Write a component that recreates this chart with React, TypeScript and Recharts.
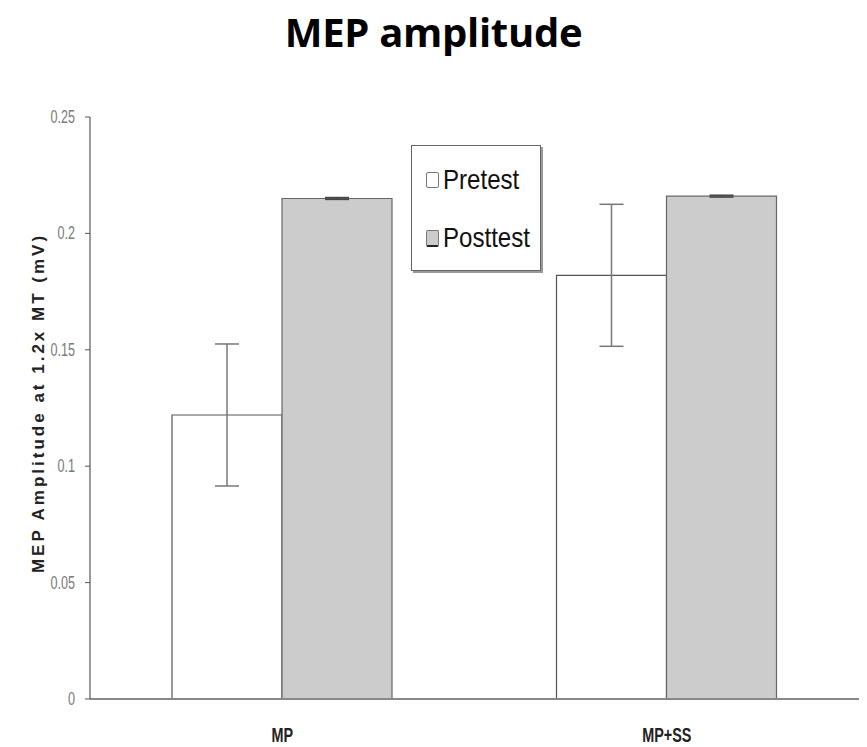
import React from "react";
import {
  BarChart,
  Bar,
  XAxis,
  YAxis,
  ErrorBar,
} from "recharts";

// groups on the x axis
const groups = ["MP", "MP+SS"];
// mean amplitude (mV)
const pretest = [0.122, 0.182];
const posttest = [0.215, 0.216];
// error bar half-lengths
const pretestErr = [0.0305, 0.0305];
const posttestErr = [0.0004, 0.0004];
const yTicks = [0, 0.05, 0.1, 0.15, 0.2, 0.25];

const data = groups.map((g, i) => ({
  group: g,
  pretest: pretest[i],
  posttest: posttest[i],
  pretestErr: pretestErr[i],
  posttestErr: posttestErr[i],
}));

const SANS = '"Liberation Sans", Arial, sans-serif';

// narrow-looking tick text (the original uses Arial Narrow)
const YTick = ({ x, y, payload }: any) => (
  <g transform={`translate(${x},${y}) scale(0.7,1)`}>
    <text x={0} y={0} dy={6} textAnchor="end" fontFamily={SANS} fontSize={18} fill="#7a7a7a">
      {payload.value}
    </text>
  </g>
);

const XTick = ({ x, y, payload }: any) => (
  <g transform={`translate(${x},${y}) scale(0.72,1)`}>
    <text x={0} y={0} dy={15} textAnchor="middle" fontFamily={SANS} fontWeight={700} fontSize={20} fill="#222">
      {payload.value}
    </text>
  </g>
);

function LegendBox() {
  const item = (label: string, fill: string) => (
    <div style={{ display: "flex", alignItems: "center", height: 58 }}>
      <div
        style={{
          width: 11,
          height: 14,
          background: fill,
          border: "1px solid #777",
          borderBottom: fill === "#fff" ? "1px solid #777" : "2px solid #222",
          borderRadius: 2,
          marginRight: 4,
          flex: "none",
        }}
      />
      <span
        style={{
          fontFamily: SANS,
          fontSize: 28,
          color: "#111",
          display: "inline-block",
          transform: "scaleX(0.86)",
          transformOrigin: "left center",
          whiteSpace: "nowrap",
        }}
      >
        {label}
      </span>
    </div>
  );
  return (
    <div
      style={{
        position: "absolute",
        left: 411,
        top: 145,
        width: 130,
        height: 126,
        border: "1px solid #666",
        boxShadow: "2px 2px 0 #999",
        background: "#fff",
        boxSizing: "border-box",
        padding: "5px 0 0 14px",
      }}
    >
      {item("Pretest", "#fff")}
      {item("Posttest", "#cccccc")}
    </div>
  );
}

export default function App() {
  return (
    <div style={{ position: "absolute", left: 0, top: 0, width: 867, height: 747, background: "#fff" }}>
      <div
        style={{
          position: "absolute",
          left: 0,
          top: 4,
          width: 867,
          textAlign: "center",
          fontFamily: '"Open Sans", "Noto Sans", sans-serif',
          fontWeight: 700,
          fontSize: 40,
          color: "#000",
          letterSpacing: -0.3,
        }}
      >
        MEP amplitude
      </div>
      <BarChart
        width={867}
        height={747}
        data={data}
        margin={{ top: 117, right: 8, bottom: 8, left: 30 }}
        barGap={0}
        barSize={110}
      >
        <XAxis
          dataKey="group"
          xAxisId={0}
          height={40}
          tickLine={false}
          axisLine={{ stroke: "#888", strokeWidth: 2 }}
          tick={<XTick />}
          tickMargin={22}
        />
        <YAxis
          yAxisId="left"
          width={60}
          domain={[0, 0.25]}
          ticks={yTicks}
          interval={0}
          axisLine={{ stroke: "#555", strokeWidth: 1.2 }}
          tickLine={{ stroke: "#555" }}
          tickSize={5}
          tickMargin={10}
          tick={<YTick />}
          label={() => (
            <text
              x={44}
              y={403}
              transform="rotate(-90, 44, 403)"
              textAnchor="middle"
              fontFamily={SANS}
              fontWeight={700}
              fontSize={17}
              letterSpacing={3}
              fill="#222"
            >
              MEP Amplitude at 1.2x MT (mV)
            </text>
          )}
        />
        <YAxis
          yAxisId="right"
          orientation="right"
          width={0}
          domain={[0, 0.25]}
          tick={false}
          tickLine={false}
          axisLine={{ stroke: "#c4c4c4", strokeWidth: 2 }}
        />
        <XAxis
          xAxisId="top"
          orientation="top"
          dataKey="group"
          height={0}
          tick={false}
          tickLine={false}
          axisLine={{ stroke: "#c4c4c4", strokeWidth: 2 }}
        />
        <Bar
          yAxisId="left"
          dataKey="pretest"
          name="Pretest"
          fill="#ffffff"
          stroke="#555"
          strokeWidth={1.2}
          isAnimationActive={false}
        >
          <ErrorBar dataKey="pretestErr" width={12} stroke="#777" strokeWidth={1.5} />
        </Bar>
        <Bar
          yAxisId="left"
          dataKey="posttest"
          name="Posttest"
          fill="#cccccc"
          stroke="#666"
          strokeWidth={1.2}
          isAnimationActive={false}
        >
          <ErrorBar dataKey="posttestErr" width={12} stroke="#444" strokeWidth={1.5} />
        </Bar>
      </BarChart>
      <LegendBox />
    </div>
  );
}
